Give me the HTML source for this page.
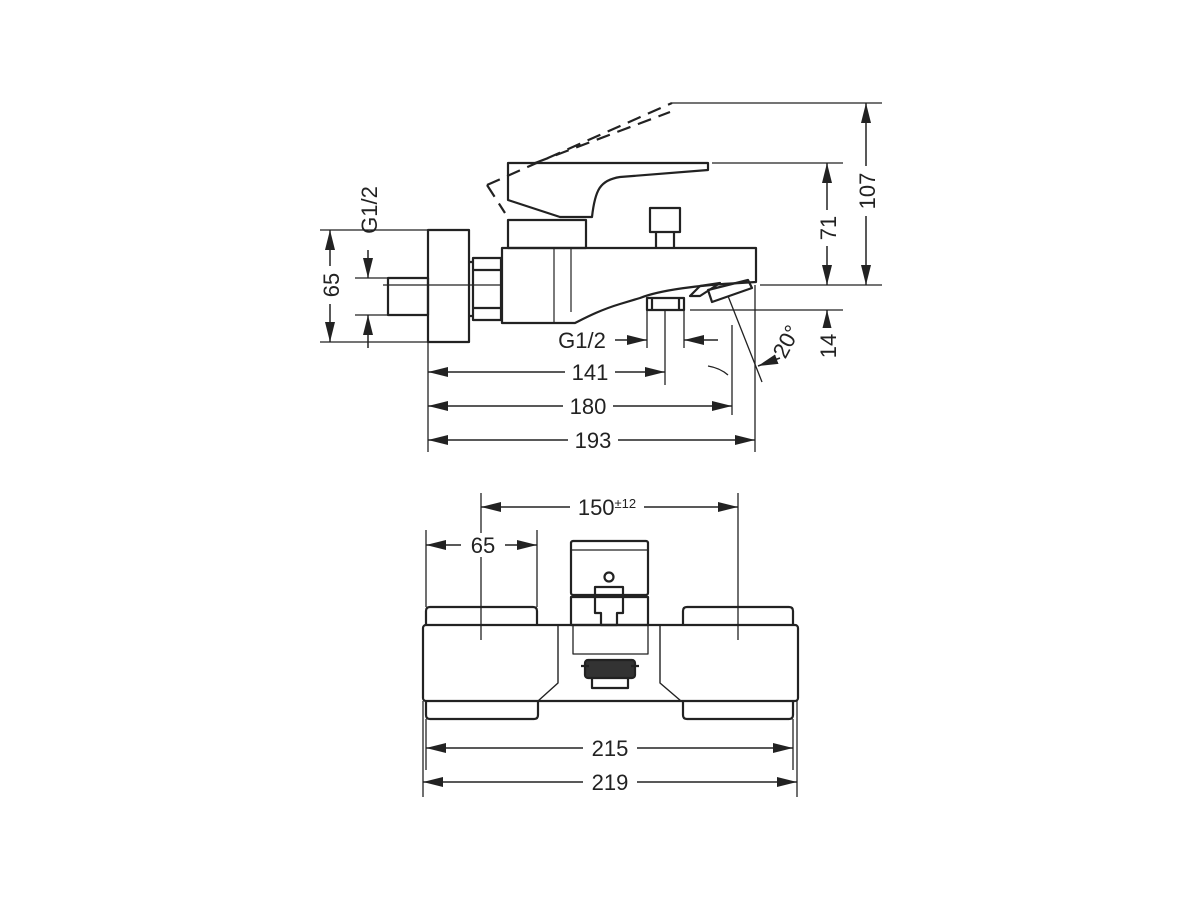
<!DOCTYPE html>
<html><head><meta charset="utf-8"><style>
html,body{margin:0;padding:0;background:#fff;}
svg{display:block;}
text{font-family:"Liberation Sans",sans-serif;font-size:22px;fill:#222;}
</style></head><body>
<svg width="1201" height="900" viewBox="0 0 1201 900" xmlns="http://www.w3.org/2000/svg">
<defs>
<marker id="a" viewBox="0 0 20 10" refX="20" refY="5" markerWidth="20" markerHeight="10" markerUnits="userSpaceOnUse" orient="auto-start-reverse">
<path d="M0,0 L20,5 L0,10 Z" fill="#222"/></marker>
</defs>
<g fill="none" stroke="#222" stroke-width="2.2" stroke-linejoin="round">
<rect x="428" y="230" width="41" height="112"/>
<rect x="388" y="278" width="40" height="37"/>
<path d="M473,258 H501 V320 H473 Z M469,262 H473 M469,316 H473 M473,270 H501 M473,308 H501"/>
<path d="M502,248 H756 V282 L740,283 C700,285 660,290 640,298 L620,304 C600,310 585,318 575,323 H502 Z"/>
<line x1="554" y1="248" x2="554" y2="323" stroke-width="1.2"/>
<line x1="571" y1="248" x2="571" y2="312" stroke-width="1.2"/>
<path d="M647,298 H684 V310 H647 Z M652,298 V310 M679,298 V310"/>
<path d="M690,296 L700,286 L720,283 L700,296 Z"/>
<path d="M708,290 L748,280 L752,288 L712,302 Z"/>
<rect x="508" y="220" width="78" height="28"/>
<path d="M508,163 H708 V170 L620,177 C600,180 595,190 592,217 H560 L508,200 Z"/>
<path d="M650,208 H680 V232 H650 Z M656,232 V247 M674,232 V247"/>
<path d="M487,185 L672,103 M535,163 L670,112 M487,185 L505,213" stroke-dasharray="14,8"/>
<g stroke-width="1.3">
<line x1="672" y1="103" x2="882" y2="103"/>
<line x1="712" y1="163" x2="843" y2="163"/>
<line x1="760" y1="285" x2="882" y2="285"/>
<line x1="383" y1="285" x2="502" y2="285"/>
<line x1="690" y1="310" x2="843" y2="310"/>
<line x1="320" y1="230" x2="428" y2="230"/>
<line x1="320" y1="342" x2="428" y2="342"/>
<line x1="355" y1="278" x2="388" y2="278"/>
<line x1="355" y1="315" x2="388" y2="315"/>
<line x1="428" y1="342" x2="428" y2="452"/>
<line x1="665" y1="310" x2="665" y2="385"/>
<line x1="647" y1="310" x2="647" y2="348"/>
<line x1="684" y1="310" x2="684" y2="348"/>
<line x1="732" y1="325" x2="732" y2="415"/>
<line x1="755" y1="285" x2="755" y2="452"/>
<line x1="728" y1="296" x2="762" y2="382"/>
<path d="M708,366 Q720,368 728,375"/>
</g>
<g stroke-width="1.5">
<line x1="866" y1="103" x2="866" y2="285" marker-start="url(#a)" marker-end="url(#a)"/>
<line x1="827" y1="163" x2="827" y2="285" marker-start="url(#a)" marker-end="url(#a)"/>
<line x1="827" y1="330" x2="827" y2="310" marker-end="url(#a)"/>
<line x1="330" y1="230" x2="330" y2="342" marker-start="url(#a)" marker-end="url(#a)"/>
<line x1="368" y1="250" x2="368" y2="278" marker-end="url(#a)"/>
<line x1="368" y1="348" x2="368" y2="315" marker-end="url(#a)"/>
<line x1="428" y1="372" x2="665" y2="372" marker-start="url(#a)" marker-end="url(#a)"/>
<line x1="428" y1="406" x2="732" y2="406" marker-start="url(#a)" marker-end="url(#a)"/>
<line x1="428" y1="440" x2="755" y2="440" marker-start="url(#a)" marker-end="url(#a)"/>
<line x1="615" y1="340" x2="647" y2="340" marker-end="url(#a)"/>
<line x1="718" y1="340" x2="684" y2="340" marker-end="url(#a)"/>
<line x1="780" y1="358" x2="758" y2="366" marker-end="url(#a)"/>
</g>
<rect x="423" y="625" width="375" height="76" rx="3"/>
<path d="M426,625 V611 Q426,607 430,607 H533 Q537,607 537,611 V625"/>
<path d="M683,625 V611 Q683,607 687,607 H789 Q793,607 793,611 V625"/>
<path d="M426,701 V715 Q426,719 430,719 H534 Q538,719 538,715 V701"/>
<path d="M683,701 V715 Q683,719 687,719 H789 Q793,719 793,715 V701"/>
<path d="M558,625 V683 L538,701 M660,625 V683 L681,701" stroke-width="1.4"/>
<path d="M573,625 V654 H648 V625" stroke-width="1.3"/>
<rect x="571" y="597" width="77" height="28"/>
<rect x="571" y="541" width="77" height="54" rx="2"/>
<line x1="571" y1="550" x2="648" y2="550" stroke-width="1.3"/>
<circle cx="609" cy="577" r="4.5"/>
<path d="M595,587 H623 V613 H617 V625 H601 V613 H595 Z"/>
<rect x="585" y="660" width="50" height="18" rx="3" fill="#333"/>
<path d="M581,666 H589 M631,666 H639 M592,678 V688 H628 V678"/>
<g stroke-width="1.3">
<line x1="481" y1="493" x2="481" y2="640"/>
<line x1="738" y1="493" x2="738" y2="640"/>
<line x1="426" y1="530" x2="426" y2="607"/>
<line x1="537" y1="530" x2="537" y2="607"/>
<line x1="426" y1="719" x2="426" y2="770"/>
<line x1="793" y1="719" x2="793" y2="770"/>
<line x1="423" y1="701" x2="423" y2="797"/>
<line x1="797" y1="701" x2="797" y2="797"/>
</g>
<g stroke-width="1.5">
<line x1="481" y1="507" x2="738" y2="507" marker-start="url(#a)" marker-end="url(#a)"/>
<line x1="426" y1="545" x2="537" y2="545" marker-start="url(#a)" marker-end="url(#a)"/>
<line x1="426" y1="748" x2="793" y2="748" marker-start="url(#a)" marker-end="url(#a)"/>
<line x1="423" y1="782" x2="797" y2="782" marker-start="url(#a)" marker-end="url(#a)"/>
</g>
</g>
<g fill="#fff">
<rect x="856" y="166" width="22" height="50"/>
<rect x="817" y="210" width="22" height="36"/>
<rect x="817" y="328" width="22" height="36"/>
<rect x="320" y="266" width="22" height="38"/>
<rect x="565" y="360" width="50" height="24"/>
<rect x="563" y="394" width="50" height="24"/>
<rect x="568" y="428" width="50" height="24"/>
<rect x="570" y="495" width="74" height="24"/>
<rect x="461" y="533" width="44" height="24"/>
<rect x="583" y="736" width="54" height="24"/>
<rect x="583" y="770" width="54" height="24"/>
</g>
<text transform="translate(875,191) rotate(-90)" text-anchor="middle">107</text>
<text transform="translate(836,228) rotate(-90)" text-anchor="middle">71</text>
<text transform="translate(836,346) rotate(-90)" text-anchor="middle">14</text>
<text transform="translate(339,285) rotate(-90)" text-anchor="middle">65</text>
<text transform="translate(377,210) rotate(-90)" text-anchor="middle">G1/2</text>
<text x="590" y="380" text-anchor="middle">141</text>
<text x="588" y="414" text-anchor="middle">180</text>
<text x="593" y="448" text-anchor="middle">193</text>
<text x="582" y="348" text-anchor="middle">G1/2</text>
<text transform="translate(793,345) rotate(-62)" text-anchor="middle">20°</text>
<text x="607" y="515" text-anchor="middle">150<tspan font-size="13" dy="-7">±12</tspan></text>
<text x="483" y="553" text-anchor="middle">65</text>
<text x="610" y="756" text-anchor="middle">215</text>
<text x="610" y="790" text-anchor="middle">219</text>
</svg>
</body></html>
